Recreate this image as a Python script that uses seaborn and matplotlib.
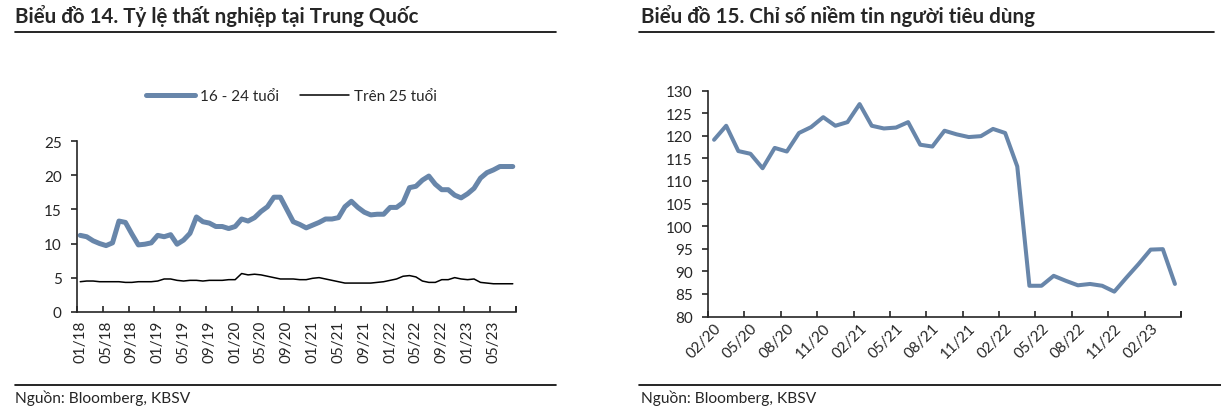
import pandas as pd
import matplotlib
matplotlib.use('Agg')
import matplotlib.pyplot as plt
from matplotlib.lines import Line2D
import seaborn as sns

W, H = 1221, 414

# Biểu đồ 14: tỷ lệ thất nghiệp (%), 01/2018 - 08/2023
youth_16_24 = [11.2, 11.0, 10.4, 10.0, 9.7, 10.1, 13.3, 13.1, 11.4, 9.8, 9.9, 10.1,
               11.2, 11.0, 11.3, 9.9, 10.5, 11.5, 13.9, 13.2, 13.0, 12.5, 12.5, 12.2,
               12.5, 13.6, 13.3, 13.8, 14.7, 15.4, 16.8, 16.8, 15.0, 13.2, 12.8, 12.3,
               12.7, 13.1, 13.6, 13.6, 13.8, 15.4, 16.2, 15.3, 14.6, 14.2, 14.3, 14.3,
               15.3, 15.3, 16.0, 18.2, 18.4, 19.3, 19.9, 18.7, 17.9, 17.9, 17.1, 16.7,
               17.3, 18.1, 19.6, 20.4, 20.8, 21.3, 21.3, 21.3]
above_25 = [4.4, 4.5, 4.5, 4.4, 4.4, 4.4, 4.4, 4.3, 4.3, 4.4, 4.4, 4.4,
            4.5, 4.8, 4.8, 4.6, 4.5, 4.6, 4.6, 4.5, 4.6, 4.6, 4.6, 4.7,
            4.7, 5.6, 5.4, 5.5, 5.4, 5.2, 5.0, 4.8, 4.8, 4.8, 4.7, 4.7,
            4.9, 5.0, 4.8, 4.6, 4.4, 4.2, 4.2, 4.2, 4.2, 4.2, 4.3, 4.4,
            4.6, 4.8, 5.2, 5.3, 5.1, 4.5, 4.3, 4.3, 4.7, 4.7, 5.0, 4.8,
            4.7, 4.8, 4.3, 4.2, 4.1, 4.1, 4.1, 4.1]
left_labels = ['01/18', '05/18', '09/18', '01/19', '05/19', '09/19', '01/20', '05/20',
               '09/20', '01/21', '05/21', '09/21', '01/22', '05/22', '09/22', '01/23', '05/23']

# Biểu đồ 15: chỉ số niềm tin người tiêu dùng, 02/2020 - 04/2023
confidence = [119.1, 122.2, 116.6, 116.0, 112.8, 117.3, 116.5, 120.6, 121.9, 124.1,
              122.2, 123.0, 127.0, 122.2, 121.6, 121.8, 123.0, 118.0, 117.6, 121.1,
              120.3, 119.7, 119.9, 121.5, 120.6, 113.2, 86.8, 86.8, 89.0, 87.9,
              86.9, 87.2, 86.8, 85.5, 88.6, 91.6, 94.8, 94.9, 87.2]
right_labels = ['02/20', '05/20', '08/20', '11/20', '02/21', '05/21', '08/21', '11/21',
                '02/22', '05/22', '08/22', '11/22', '02/23']

BLUE = '#6886AA'

sns.set_style('ticks')
plt.rcParams['font.family'] = ['Lato', 'DejaVu Sans']
plt.rcParams['axes.linewidth'] = 1.2


def rect(x0, y0, x1, y1):
    return [x0 / W, 1 - y1 / H, (x1 - x0) / W, (y1 - y0) / H]


def hline(fig, x0, x1, y, lw=1.2):
    fig.add_artist(Line2D([x0 / W, x1 / W], [1 - y / H, 1 - y / H],
                          transform=fig.transFigure, color='black', linewidth=lw))


def style_axis(ax, n, step, labels, rot, pad):
    sns.despine(ax=ax)
    ax.set_xlim(-0.5, n - 0.5)
    ax.set_xticks(range(0, step * len(labels), step))
    ax.set_xticklabels(labels, rotation=rot)
    ax.set_xticks([i - 0.5 for i in range(0, n + 1, step)] + [n - 0.5], minor=True)
    ax.tick_params(axis='x', which='major', length=0, pad=pad, labelsize=11)
    ax.tick_params(axis='x', which='minor', direction='in', length=4, width=1.2)
    ax.tick_params(axis='y', direction='out', length=4, width=1.2, pad=7, labelsize=11)
    ax.set_xlabel('')
    ax.set_ylabel('')


fig = plt.figure(figsize=(W / 100, H / 100), dpi=100)

# ---- Biểu đồ 14 ----
df_left = pd.DataFrame({'month': range(len(youth_16_24)),
                        '16 - 24 tuổi': youth_16_24,
                        'Trên 25 tuổi': above_25})
ax1 = fig.add_axes(rect(77, 142.3, 516, 312.7))
sns.lineplot(data=df_left, x='month', y='16 - 24 tuổi', ax=ax1, color=BLUE,
             linewidth=3.6, label='16 - 24 tuổi', solid_capstyle='round')
sns.lineplot(data=df_left, x='month', y='Trên 25 tuổi', ax=ax1, color='black',
             linewidth=1.1, label='Trên 25 tuổi')
ax1.set_ylim(0, 25)
ax1.set_yticks(range(0, 26, 5))
style_axis(ax1, len(youth_16_24), 4, left_labels, 90, 6)
ax1.legend(loc='center left', bbox_to_anchor=(146 / W, 1 - 97.5 / H),
           bbox_transform=fig.transFigure, ncol=2, frameon=False, fontsize=11,
           handlelength=3.2, handletextpad=0.35, columnspacing=1.35,
           borderpad=0, borderaxespad=0)

# ---- Biểu đồ 15 ----
df_right = pd.DataFrame({'month': range(len(confidence)), 'index': confidence})
ax2 = fig.add_axes(rect(708, 91.5, 1181, 317.5))
sns.lineplot(data=df_right, x='month', y='index', ax=ax2, color=BLUE, linewidth=2.9)
ax2.set_ylim(80, 130)
ax2.set_yticks(range(80, 131, 5))
style_axis(ax2, len(confidence), 3, right_labels, 45, 3)
for t in ax2.get_xticklabels():
    t.set_ha('right')
    t.set_rotation_mode('anchor')

# titles, rules, sources
fig.text(15 / W, 1 - 16 / H, 'Biểu đồ 14. Tỷ lệ thất nghiệp tại Trung Quốc',
         fontsize=14.8, fontweight='bold', va='center')
fig.text(641 / W, 1 - 16 / H, 'Biểu đồ 15. Chỉ số niềm tin người tiêu dùng',
         fontsize=14.8, fontweight='bold', va='center')
hline(fig, 15, 556, 32.5)
hline(fig, 639, 1214, 32.5)
hline(fig, 15, 556, 386)
hline(fig, 639, 1221, 386)
fig.text(15 / W, 1 - 398 / H, 'Nguồn: Bloomberg, KBSV', fontsize=11.2, va='center')
fig.text(641 / W, 1 - 398 / H, 'Nguồn: Bloomberg, KBSV', fontsize=11.2, va='center')

fig.savefig('out.png', dpi=100)
